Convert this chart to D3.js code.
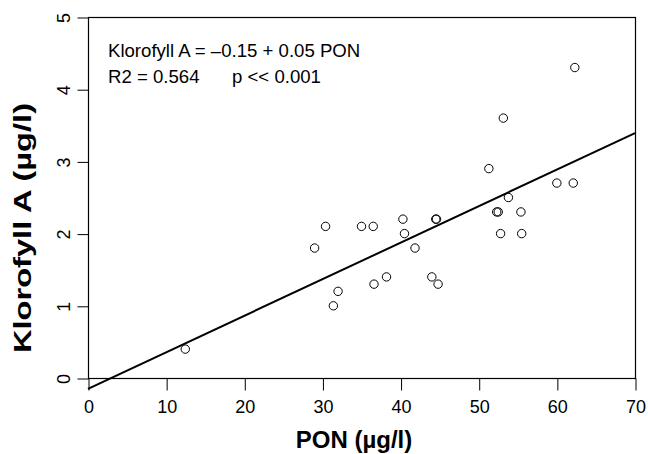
<!DOCTYPE html>
<html>
<head>
<meta charset="utf-8">
<script src="https://cdn.jsdelivr.net/npm/d3@7"></script>
<style>
  html, body { margin: 0; padding: 0; background: #fff; }
  svg text { font-family: "Liberation Sans", Arial, Helvetica, sans-serif; fill: #000; }
</style>
</head>
<body>
<svg id="chart" width="648" height="454"></svg>
<script>
// PON (µg/l) against chlorophyll a (µg/l), one entry per sample
const pon = [53.15, 51.3, 60.0, 62.1, 53.8, 52.3, 52.5, 55.4, 52.8, 55.5,
             44.5, 44.6, 40.3, 40.5, 41.85, 30.4, 35.0, 36.5, 29.0, 38.2,
             36.6, 44.0, 44.8, 32.0, 31.4, 62.3, 12.45];
const chla = [3.6, 2.9, 2.7, 2.7, 2.5, 2.3, 2.3, 2.3, 2.0, 2.0,
              2.2, 2.2, 2.2, 2.0, 1.8, 2.1, 2.1, 2.1, 1.8, 1.4,
              1.3, 1.4, 1.3, 1.2, 1.0, 4.3, 0.4];

// least-squares fit: Klorofyll A = intercept + slope * PON
const fit = { intercept: -0.15, slope: 0.0506 };

const xTicks = [0, 10, 20, 30, 40, 50, 60, 70];
const yTicks = [0, 1, 2, 3, 4, 5];

const annotation = ["Klorofyll A = \u20130.15 + 0.05 PON", "R2 = 0.564", "p << 0.001"];
const xTitle = "PON (\u00b5g/l)";
const yTitle = "Klorofyll A (\u00b5g/l)";

const svg = d3.select("#chart");
const box = { left: 88, right: 635, top: 17, bottom: 378 };

const x = d3.scaleLinear().domain([0, 70]).range([box.left, box.right]);
const y = d3.scaleLinear().domain([0, 5]).range([box.bottom, box.top]);

// frame
svg.append("rect")
  .attr("x", box.left + 0.5).attr("y", box.top + 0.5)
  .attr("width", box.right - box.left).attr("height", box.bottom - box.top)
  .attr("fill", "none").attr("stroke", "#000").attr("stroke-width", 1.2);

// x axis
const gx = svg.append("g")
  .attr("transform", `translate(0.5,${box.bottom + 0.5})`)
  .call(d3.axisBottom(x).tickValues(xTicks).tickFormat(d3.format("d"))
    .tickSize(12).tickSizeOuter(0).tickPadding(10));
gx.select(".domain").remove();
gx.selectAll(".tick line").attr("stroke", "#000");
gx.selectAll(".tick text").attr("font-size", 18).attr("font-family", null);

// y axis with labels turned parallel to the axis
const gy = svg.append("g")
  .attr("transform", `translate(${box.left + 0.5},0.5)`)
  .call(d3.axisLeft(y).tickValues(yTicks).tickFormat(d3.format("d"))
    .tickSize(11).tickSizeOuter(0));
gy.select(".domain").remove();
gy.selectAll(".tick line").attr("stroke", "#000");
gy.selectAll(".tick text")
  .attr("font-size", 18).attr("font-family", null)
  .attr("x", null).attr("dy", null)
  .attr("text-anchor", "middle")
  .attr("transform", "translate(-19,0) rotate(-90)");

// fitted line over the full x range
svg.append("line")
  .attr("x1", x(0)).attr("y1", y(fit.intercept))
  .attr("x2", x(70)).attr("y2", y(fit.intercept + fit.slope * 70))
  .attr("stroke", "#000").attr("stroke-width", 2);

// samples
svg.append("g").selectAll("circle")
  .data(pon.map((p, i) => [p, chla[i]]))
  .join("circle")
  .attr("cx", d => x(d[0])).attr("cy", d => y(d[1]))
  .attr("r", 4.2)
  .attr("fill", "none").attr("stroke", "#000").attr("stroke-width", 1);

// regression summary
svg.append("text").attr("x", 108).attr("y", 57).attr("font-size", 18.6).text(annotation[0]);
svg.append("text").attr("x", 108).attr("y", 83).attr("font-size", 18.6).text(annotation[1]);
svg.append("text").attr("x", 232).attr("y", 83).attr("font-size", 18.6).text(annotation[2]);

// axis titles
svg.append("text")
  .attr("x", 354).attr("y", 448)
  .attr("text-anchor", "middle").attr("font-size", 24).attr("font-weight", "bold")
  .text(xTitle);
svg.append("text")
  .attr("transform", `translate(31,228) rotate(-90)`)
  .attr("text-anchor", "middle").attr("font-size", 23).attr("font-weight", "bold")
  .attr("textLength", 250).attr("lengthAdjust", "spacingAndGlyphs")
  .text(yTitle);
</script>
</body>
</html>
